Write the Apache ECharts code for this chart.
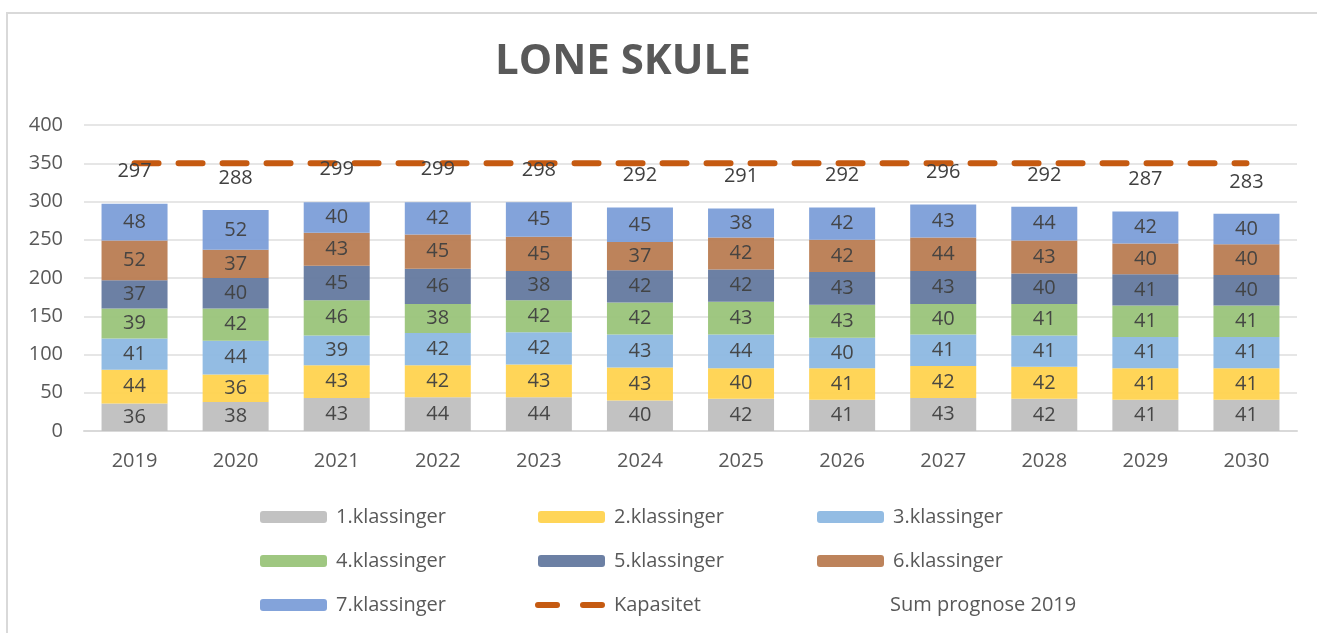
<!DOCTYPE html>
<html>
<head>
<meta charset="utf-8">
<script src="https://cdn.jsdelivr.net/npm/echarts@6/dist/echarts.min.js"></script>
<style>
  html, body { margin: 0; padding: 0; background: #fff; }
  #chart { width: 1317px; height: 633px; }
</style>
</head>
<body>
<div id="chart"></div>
<script>
const years = ['2019', '2020', '2021', '2022', '2023', '2024', '2025', '2026', '2027', '2028', '2029', '2030'];

const klasse1 = [36, 38, 43, 44, 44, 40, 42, 41, 43, 42, 41, 41];
const klasse2 = [44, 36, 43, 42, 43, 43, 40, 41, 42, 42, 41, 41];
const klasse3 = [41, 44, 39, 42, 42, 43, 44, 40, 41, 41, 41, 41];
const klasse4 = [39, 42, 46, 38, 42, 42, 43, 43, 40, 41, 41, 41];
const klasse5 = [37, 40, 45, 46, 38, 42, 42, 43, 43, 40, 41, 40];
const klasse6 = [52, 37, 43, 45, 45, 37, 42, 42, 44, 43, 40, 40];
const klasse7 = [48, 52, 40, 42, 45, 45, 38, 42, 43, 44, 42, 40];
const kapasitet = [350, 350, 350, 350, 350, 350, 350, 350, 350, 350, 350, 350];
const sumPrognose = [297, 288, 299, 299, 298, 292, 291, 292, 296, 292, 287, 283];

const yTicks = [0, 50, 100, 150, 200, 250, 300, 350, 400];

const FONT = '"Open Sans", "Noto Sans", sans-serif';
const TEXT = '#595959';

const barSeries = [
  ['1.klassinger', klasse1, '#BFBFBF'],
  ['2.klassinger', klasse2, '#FFD34F'],
  ['3.klassinger', klasse3, '#8DB8E2'],
  ['4.klassinger', klasse4, '#9AC47A'],
  ['5.klassinger', klasse5, '#64799F'],
  ['6.klassinger', klasse6, '#B97C52'],
  ['7.klassinger', klasse7, '#7C9ED8']
].map(([name, data, color]) => ({
  name,
  type: 'bar',
  stack: 'total',
  data,
  barWidth: 66,
  itemStyle: { color, opacity: 0.95 },
  label: {
    show: true,
    position: 'inside',
    color: '#404040',
    fontFamily: FONT,
    fontSize: 20
  }
}));

const chart = echarts.init(document.getElementById('chart'));

const legendBase = {
  orient: 'vertical',
  padding: 0,
  itemWidth: 67,
  itemHeight: 12,
  itemGap: 24,
  textStyle: { color: TEXT, fontFamily: FONT, fontSize: 20, padding: [0, 0, 0, 4] },
  selectedMode: false
};

// two dashes for the capacity line in the legend
const dashIcon = 'path://M3,0 h19 a3,3 0 0 1 0,6 h-19 a3,3 0 0 1 0,-6 z M48,0 h19 a3,3 0 0 1 0,6 h-19 a3,3 0 0 1 0,-6 z';

chart.setOption({
  animation: false,
  backgroundColor: '#fff',
  title: {
    text: 'LONE SKULE',
    left: 490,
    top: 36,
    textStyle: { color: TEXT, fontFamily: FONT, fontSize: 42, fontWeight: 'bold' }
  },
  graphic: [{
    type: 'rect',
    shape: { x: 7, y: 13, width: 1320, height: 640 },
    style: { fill: 'none', stroke: '#D9D9D9', lineWidth: 2 },
    silent: true
  }],
  grid: { left: 84, right: 20, top: 125, bottom: 202 },
  legend: [
    Object.assign({}, legendBase, { left: 260, top: 507, data: ['1.klassinger', '4.klassinger', '7.klassinger'] }),
    Object.assign({}, legendBase, { left: 538, top: 507, data: ['2.klassinger', '5.klassinger'] }),
    Object.assign({}, legendBase, { left: 535, top: 595, itemWidth: 70, itemHeight: 6,
      data: [{ name: 'Kapasitet', icon: dashIcon }] }),
    Object.assign({}, legendBase, { left: 817, top: 507, data: ['3.klassinger', '6.klassinger'] }),
    Object.assign({}, legendBase, { left: 880, top: 595, itemWidth: 1, itemHeight: 1,
      data: [{ name: 'Sum prognose 2019', icon: 'rect', itemStyle: { opacity: 0 } }] })
  ],
  xAxis: {
    type: 'category',
    data: years,
    axisLine: { lineStyle: { color: '#D9D9D9', width: 2 } },
    axisTick: { show: false },
    axisLabel: { color: TEXT, fontFamily: FONT, fontSize: 20, margin: 20 }
  },
  yAxis: {
    type: 'value',
    min: yTicks[0],
    max: yTicks[yTicks.length - 1],
    interval: 50,
    axisLine: { show: false },
    axisTick: { show: false },
    axisLabel: { color: TEXT, fontFamily: FONT, fontSize: 20, margin: 21 },
    splitLine: { lineStyle: { color: '#E6E6E6', width: 2 } }
  },
  series: [
    ...barSeries,
    {
      name: 'Kapasitet',
      type: 'line',
      data: kapasitet,
      symbol: 'none',
      z: 5,
      lineStyle: { color: '#C55A11', width: 6, type: [24, 20], cap: 'round' },
      itemStyle: { color: '#C55A11' }
    },
    {
      name: 'Sum prognose 2019',
      type: 'line',
      data: sumPrognose,
      symbol: 'circle',
      symbolSize: 1,
      showSymbol: true,
      z: 6,
      lineStyle: { opacity: 0 },
      itemStyle: { color: 'rgba(0,0,0,0)' },
      label: {
        show: true,
        position: 'top',
        distance: 22,
        color: '#404040',
        fontFamily: FONT,
        fontSize: 20
      }
    }
  ]
});
</script>
</body>
</html>
